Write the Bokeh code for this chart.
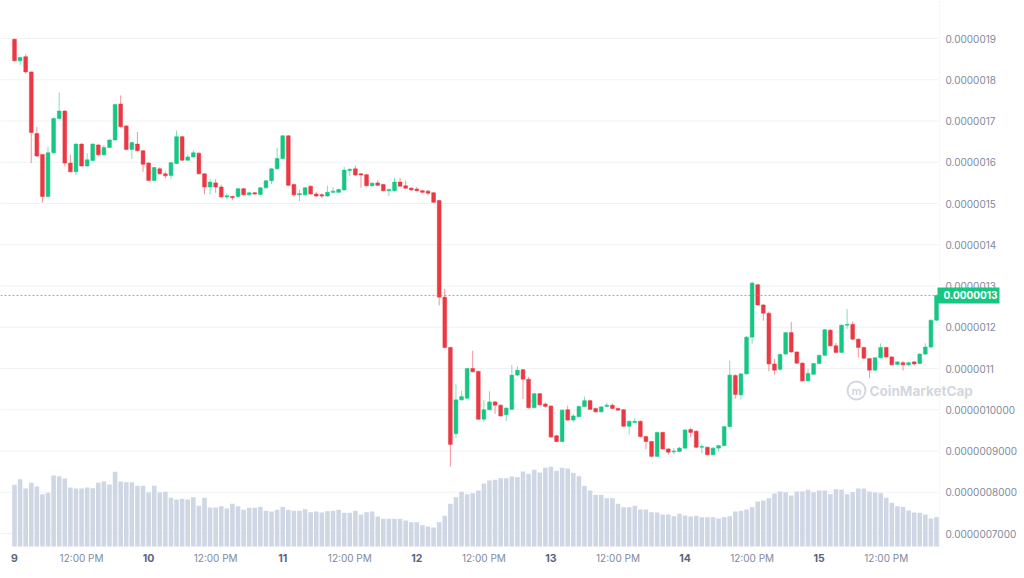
import pandas as pd
from bokeh.plotting import figure
from bokeh.models import Range1d, ColumnDataSource
from bokeh.core.properties import value
from bokeh.embed import file_html
from bokeh.resources import INLINE

# ---- data (prices in units of 1e-7 USD, hourly candles) ----
start_time = "2023-05-09 00:00"
opens = [18.98, 18.46, 18.56, 18.19, 16.70, 16.19, 15.17, 16.23, 17.06, 17.24,
         15.98, 15.77, 16.44, 15.91, 16.04, 16.42, 16.18, 16.36, 16.54, 17.41,
         16.88, 16.31, 16.44, 16.28, 15.98, 15.56, 15.84, 15.72, 15.68, 15.97,
         16.62, 16.05, 16.13, 16.22, 15.72, 15.40, 15.50, 15.40, 15.16, 15.17,
         15.17, 15.36, 15.21, 15.26, 15.22, 15.38, 15.55, 15.84, 16.09, 16.64,
         15.46, 15.21, 15.21, 15.42, 15.23, 15.21, 15.18, 15.27, 15.27, 15.33,
         15.80, 15.84, 15.72, 15.70, 15.43, 15.50, 15.46, 15.31, 15.31, 15.52,
         15.43, 15.37, 15.35, 15.31, 15.30, 15.26, 15.07, 12.73, 11.51, 9.42,
         10.24, 10.28, 11.00, 10.93, 9.77, 10.00, 10.19, 10.11, 9.88, 10.01,
         10.84, 10.97, 10.74, 10.05, 10.39, 10.14, 10.09, 9.37, 9.23, 10.00,
         9.75, 9.83, 10.08, 10.22, 10.03, 9.95, 10.08, 10.11, 10.03, 10.00,
         9.60, 9.69, 9.72, 9.35, 9.23, 8.87, 9.45, 9.05, 8.98, 8.99,
         9.07, 9.52, 9.48, 9.09, 9.09, 8.91, 9.07, 9.13, 9.59, 10.83,
         10.36, 10.87, 11.76, 13.03, 12.54, 12.34, 11.11, 10.98, 11.35, 11.87,
         11.40, 11.13, 10.70, 10.86, 11.12, 11.32, 11.93, 11.55, 11.39, 12.05,
         12.07, 11.71, 11.51, 11.24, 10.96, 11.26, 11.51, 11.28, 11.10, 11.14,
         11.09, 11.16, 11.12, 11.35, 11.52, 12.17]
highs = [19.00, 18.56, 18.62, 18.20, 16.86, 16.20, 16.38, 17.09, 17.69, 17.26,
         16.18, 16.46, 16.46, 16.22, 16.46, 16.44, 16.42, 16.56, 17.42, 17.62,
         16.90, 16.50, 16.73, 16.30, 16.00, 15.89, 15.88, 15.77, 16.01, 16.77,
         16.64, 16.18, 16.29, 16.24, 15.74, 15.59, 15.59, 15.46, 15.24, 15.19,
         15.38, 15.38, 15.28, 15.28, 15.40, 15.57, 15.86, 16.35, 16.66, 16.66,
         15.48, 15.34, 15.40, 15.44, 15.28, 15.25, 15.43, 15.40, 15.36, 15.89,
         15.85, 15.92, 15.74, 15.72, 15.52, 15.56, 15.48, 15.36, 15.62, 15.62,
         15.56, 15.40, 15.40, 15.33, 15.33, 15.28, 15.09, 12.93, 11.53, 10.62,
         10.46, 11.02, 11.43, 10.95, 10.24, 10.45, 10.21, 10.13, 10.06, 11.09,
         11.06, 10.99, 10.80, 10.41, 10.41, 10.18, 10.11, 9.39, 10.01, 10.10,
         9.90, 10.10, 10.32, 10.24, 10.05, 10.09, 10.17, 10.15, 10.05, 10.02,
         9.74, 9.80, 9.74, 9.37, 9.25, 9.47, 9.47, 9.07, 9.07, 9.10,
         9.53, 9.57, 9.50, 9.17, 9.11, 9.09, 9.15, 9.61, 11.19, 10.86,
         10.89, 11.79, 13.11, 13.05, 12.56, 12.38, 11.23, 11.36, 11.89, 12.13,
         11.42, 11.15, 10.99, 11.14, 11.34, 11.96, 11.95, 11.62, 12.07, 12.44,
         12.14, 11.73, 11.53, 11.26, 11.28, 11.61, 11.53, 11.30, 11.18, 11.18,
         11.16, 11.18, 11.37, 11.61, 12.19, 12.79]
lows = [18.44, 18.36, 18.15, 15.98, 16.13, 15.02, 15.15, 16.20, 17.02, 15.90,
        15.75, 15.69, 15.89, 15.89, 16.02, 16.14, 16.16, 16.34, 16.52, 16.84,
        16.29, 16.08, 16.26, 15.77, 15.54, 15.54, 15.70, 15.61, 15.59, 15.95,
        16.03, 16.03, 16.11, 15.70, 15.22, 15.22, 15.26, 15.14, 15.10, 15.08,
        15.15, 15.19, 15.19, 15.21, 15.20, 15.36, 15.47, 15.82, 16.07, 15.42,
        15.17, 15.06, 15.19, 15.21, 15.16, 15.13, 15.16, 15.25, 15.25, 15.31,
        15.67, 15.67, 15.38, 15.41, 15.41, 15.42, 15.29, 15.18, 15.29, 15.40,
        15.35, 15.31, 15.29, 15.25, 15.19, 15.01, 12.53, 11.49, 8.62, 9.32,
        10.22, 10.26, 10.90, 9.75, 9.70, 9.98, 9.90, 9.83, 9.73, 9.99,
        10.82, 10.26, 10.03, 10.03, 10.10, 10.05, 9.32, 9.21, 9.21, 9.73,
        9.70, 9.81, 10.06, 9.99, 9.93, 9.93, 10.06, 10.01, 9.97, 9.58,
        9.40, 9.68, 9.33, 9.04, 8.85, 8.85, 9.03, 8.91, 8.92, 8.97,
        9.05, 9.33, 9.07, 8.95, 8.89, 8.89, 8.99, 9.11, 9.57, 10.27,
        10.25, 10.85, 11.60, 12.52, 12.16, 10.93, 10.85, 10.95, 11.33, 11.38,
        11.11, 10.68, 10.68, 10.84, 11.10, 11.30, 11.53, 11.37, 11.37, 11.96,
        11.69, 11.27, 11.23, 10.77, 10.94, 11.24, 11.26, 11.07, 11.08, 10.95,
        11.05, 11.07, 11.10, 11.33, 11.49, 12.15]
closes = [18.46, 18.54, 18.19, 16.72, 16.15, 15.17, 16.23, 17.06, 17.24, 15.98,
          15.77, 16.44, 15.91, 16.06, 16.44, 16.18, 16.36, 16.54, 17.40, 16.86,
          16.31, 16.48, 16.28, 15.95, 15.56, 15.87, 15.72, 15.67, 15.99, 16.62,
          16.05, 16.13, 16.23, 15.72, 15.40, 15.52, 15.40, 15.16, 15.19, 15.14,
          15.36, 15.21, 15.26, 15.23, 15.38, 15.55, 15.84, 16.09, 16.64, 15.44,
          15.21, 15.24, 15.38, 15.23, 15.18, 15.18, 15.27, 15.30, 15.34, 15.81,
          15.83, 15.69, 15.69, 15.43, 15.49, 15.44, 15.31, 15.34, 15.52, 15.42,
          15.37, 15.33, 15.31, 15.27, 15.25, 15.03, 12.73, 11.51, 9.16, 10.24,
          10.32, 11.00, 10.92, 9.77, 10.00, 10.19, 10.11, 9.85, 10.04, 10.84,
          10.96, 10.74, 10.05, 10.39, 10.12, 10.08, 9.34, 9.23, 9.99, 9.75,
          9.85, 10.08, 10.22, 10.01, 9.95, 10.07, 10.11, 10.03, 9.99, 9.60,
          9.72, 9.72, 9.35, 9.23, 8.87, 9.45, 9.05, 8.97, 9.00, 9.07,
          9.51, 9.45, 9.09, 9.11, 8.91, 9.07, 9.13, 9.59, 10.84, 10.37,
          10.87, 11.76, 13.07, 12.54, 12.34, 11.11, 10.96, 11.34, 11.87, 11.40,
          11.13, 10.70, 10.88, 11.12, 11.32, 11.94, 11.55, 11.39, 12.05, 12.07,
          11.71, 11.51, 11.25, 10.96, 11.26, 11.51, 11.28, 11.09, 11.16, 11.09,
          11.14, 11.11, 11.35, 11.52, 12.17, 12.77]
volumes = [61.7, 67.3, 58.0, 63.7, 60.0, 52.3, 53.7, 71.0, 70.3, 68.0,
           59.0, 58.0, 58.0, 59.0, 58.3, 63.7, 65.0, 62.0, 74.7, 65.0,
           64.3, 64.3, 60.7, 60.7, 54.0, 60.7, 54.0, 54.7, 48.7, 47.0,
           47.7, 47.0, 49.3, 40.7, 48.7, 39.0, 39.0, 40.3, 38.0, 42.7,
           40.3, 36.7, 38.7, 38.7, 39.7, 35.7, 35.0, 36.7, 39.7, 36.7,
           35.7, 35.7, 37.3, 34.3, 35.0, 34.0, 35.3, 35.7, 36.7, 33.7,
           33.7, 35.7, 32.0, 34.3, 35.0, 30.0, 27.7, 27.7, 27.7, 27.7,
           26.0, 24.3, 24.3, 21.3, 20.0, 19.0, 24.3, 30.7, 42.7, 49.3,
           54.7, 52.3, 53.3, 56.0, 63.0, 66.0, 66.7, 68.3, 68.3, 70.0,
           69.3, 75.0, 72.7, 76.7, 74.0, 78.7, 79.7, 75.7, 78.7, 78.0,
           73.7, 70.3, 60.7, 56.0, 51.7, 51.7, 48.3, 48.3, 42.7, 39.3,
           39.3, 40.7, 37.0, 37.0, 34.3, 34.0, 32.0, 32.0, 30.3, 32.7,
           31.0, 30.0, 30.7, 29.3, 29.3, 29.3, 28.0, 29.3, 30.3, 35.0,
           35.7, 37.0, 39.3, 45.0, 46.0, 48.3, 53.0, 55.0, 54.3, 51.0,
           55.0, 55.0, 56.7, 54.3, 56.0, 56.0, 52.3, 57.3, 57.0, 52.3,
           54.3, 58.0, 58.0, 55.0, 54.0, 53.3, 48.7, 43.7, 40.3, 39.7,
           36.0, 34.0, 33.7, 32.0, 28.0, 29.3]
y_ticks = [7, 8, 9, 10, 11, 12, 13, 14, 15, 16, 17, 18, 19]
y_tick_labels = ["0.0000007000", "0.0000008000", "0.0000009000", "0.0000010000",
                 "0.0000011", "0.0000012", "0.0000013", "0.0000014",
                 "0.0000015", "0.0000016", "0.0000017", "0.0000018", "0.0000019"]
day_labels = ["9", "10", "11", "12", "13", "14", "15"]
noon_label = "12:00 PM"
last_price = 12.77
last_price_text = "0.0000013"

UP = "#16c784"
DOWN = "#ea3943"
HOUR = pd.Timedelta(hours=1)
FONT = value("Inter")

times = pd.date_range(start_time, periods=len(opens), freq="h")
t0 = times[0]

# pixel geometry of the canvas (frame fills the whole canvas)
W, H = 1024, 578
PX_PER_HOUR = 5.588
X0_PX = 14            # pixel of first candle
PLOT_RIGHT = 938      # right edge of the chart area
P19_PX, PX_PER_UNIT = 38, 41.25
VOL_BASE_PX = 546


def tx(px):
    return t0 + (px - X0_PX) / PX_PER_HOUR * HOUR


def py(px):
    return 19 - (px - P19_PX) / PX_PER_UNIT


colors = [UP if c >= o else DOWN for o, c in zip(opens, closes)]
src = ColumnDataSource(dict(t=times, o=opens, h=highs, l=lows, c=closes,
                            top=[max(a, b) for a, b in zip(opens, closes)],
                            bot=[min(a, b) for a, b in zip(opens, closes)],
                            col=colors, v=volumes))

p = figure(width=W, height=H, x_axis_type="datetime", toolbar_location=None,
           output_backend="svg", x_range=Range1d(tx(0), tx(W)),
           y_range=Range1d(py(H), py(0)),
           min_border=0, min_border_left=0, min_border_right=0,
           min_border_top=0, min_border_bottom=0)
p.extra_y_ranges = {"vol": Range1d(-(H - VOL_BASE_PX), VOL_BASE_PX)}
p.outline_line_color = None
p.background_fill_color = "white"
p.border_fill_color = "white"
p.axis.visible = False
p.grid.grid_line_color = None

# gridlines
p.segment(x0=[tx(0)] * len(y_ticks), x1=[tx(PLOT_RIGHT)] * len(y_ticks),
          y0=y_ticks, y1=y_ticks, line_color="#f0f2f5", line_width=1)
# right separator
p.segment(x0=[tx(PLOT_RIGHT + 1)], x1=[tx(PLOT_RIGHT + 1)], y0=[py(0)],
          y1=[py(VOL_BASE_PX)], line_color="#eef0f4", line_width=1,
          line_dash="2 2")

# volume
p.vbar(x="t", top="v", bottom=0, width=0.82 * HOUR, source=src,
       y_range_name="vol", fill_color="#cfd6e4", line_color=None)

# candles
p.segment(x0="t", x1="t", y0="h", y1="l", source=src, line_color="col",
          line_alpha=0.55, line_width=1)
p.vbar(x="t", top="top", bottom="bot", width=0.68 * HOUR, source=src,
       fill_color="col", line_color="col", line_width=0.5)

# y tick labels
p.text(x=[tx(945)] * len(y_ticks), y=y_ticks, text=y_tick_labels,
       text_font=FONT, text_font_size="10px", text_color="#808a9d",
       text_baseline="middle", text_align="left")

# current price line & tag
p.segment(x0=[tx(0)], x1=[tx(PLOT_RIGHT)], y0=[last_price], y1=[last_price],
          line_color=UP, line_alpha=0.75, line_dash="2 2", line_width=1)
p.rect(x=[tx(968)], y=[last_price], width=62, height=16, width_units="screen",
       height_units="screen", fill_color=UP, line_color=None)
p.text(x=[tx(943)], y=[last_price], text=[last_price_text], text_font=FONT,
       text_font_style="bold", text_font_size="10px", text_color="white",
       text_baseline="middle", text_align="left")

# x labels
day_x = [t0 + 24 * i * HOUR for i in range(len(day_labels))]
noon_x = [t0 + (24 * i + 12) * HOUR for i in range(len(day_labels))]
p.text(x=day_x, y=[py(557)] * len(day_x), text=day_labels, text_font=FONT,
       text_font_style="bold", text_font_size="10.5px", text_color="#58667e",
       text_baseline="middle", text_align="center")
p.text(x=noon_x, y=[py(557)] * len(noon_x), text=[noon_label] * len(noon_x),
       text_font=FONT, text_font_size="10px", text_color="#808a9d",
       text_baseline="middle", text_align="center")

# watermark
wm_y = py(390)
p.scatter(x=[tx(856)], y=[wm_y], size=18, marker="circle",
          fill_color=None, line_color="#d3d7de", line_width=2)
p.text(x=[tx(856)], y=[wm_y], text=["m"], text_font=FONT,
       text_font_style="bold", text_font_size="11px", text_color="#d3d7de",
       text_baseline="middle", text_align="center")
p.text(x=[tx(869)], y=[wm_y], text=["CoinMarketCap"], text_font=FONT,
       text_font_style="bold", text_font_size="13.5px", text_color="#d3d7de",
       text_baseline="middle", text_align="left")

open("out.html", "w").write(file_html(p, INLINE))
